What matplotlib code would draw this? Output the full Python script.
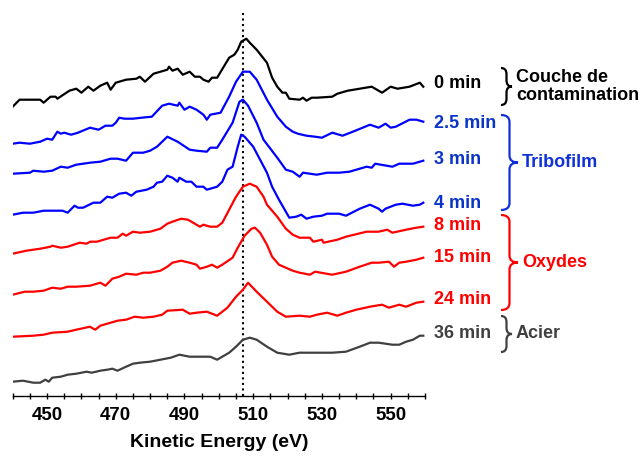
import matplotlib.pyplot as plt
from matplotlib.path import Path
from matplotlib.patches import PathPatch
from matplotlib.ticker import MultipleLocator

plt.rcParams['font.family'] = ['Liberation Sans', 'DejaVu Sans']
plt.rcParams['font.weight'] = 'bold'

# spectra (energy in eV, intensity in stacked arbitrary units)
e_0 = [440, 442, 448, 449, 451, 452.5, 453, 456.5, 458.5, 460, 462, 463.5, 465.5, 467.5, 468.5, 470, 473, 476, 477,
       478.5, 481, 485, 485.5, 486.5, 488, 489.5, 491.5, 493, 494.5, 495.5, 497, 498, 499.5, 503, 504.5, 505.5, 506.5,
       508, 509, 511, 514, 515.5, 517, 518.5, 519.5, 520.5, 523.5, 524.5, 525.5, 527, 528.5, 533, 534.5, 537.5, 544.5,
       547.5, 550, 552, 555.5, 558.5, 559.5]
i_0 = [289, 296, 296, 293, 299, 299, 297, 305, 307, 303, 309, 305, 310, 313, 306, 313, 316, 317, 319,
       314, 322, 326, 329, 325, 327, 321, 324, 319, 319, 316, 314, 318, 318, 338, 341, 346, 354,
       357, 353, 346, 333, 318, 309, 303, 303, 297, 296, 298, 295, 298, 298, 299, 302, 305, 309,
       303, 309, 307, 309, 313, 309]

e_25 = [440, 442, 445, 448, 450, 451.5, 453, 454, 455, 457, 459, 462.5, 465, 467, 469, 470, 471, 472.5, 475, 477.5,
        480.5, 483.5, 485.5, 488, 488.5, 490, 491.5, 493.5, 495.5, 496.5, 497.5, 500.5, 503, 505, 507, 509, 511, 514,
        517, 519.5, 521.5, 523, 525.5, 528, 530, 533, 536, 539, 544, 546.5, 548.5, 550, 551.5, 555.5, 557.5, 559.5]
i_25 = [252, 253, 252, 254, 257, 256, 264, 262, 263, 261, 263, 268, 266, 270, 270, 273, 278, 277, 277, 278,
        279, 290, 292, 290, 293, 286, 289, 286, 281, 276, 281, 283, 299, 314, 324, 324, 316, 296,
        279, 269, 264, 262, 260, 259, 258, 263, 260, 264, 271, 268, 272, 268, 269, 276, 276, 274]

e_3 = [440, 445, 446, 449, 451.5, 454, 456, 458.5, 462.5, 465.5, 468.5, 470.5, 473, 475, 478, 480, 482, 483.5, 485,
       488, 491.5, 493.5, 496.5, 497.5, 499.5, 501, 504, 506, 507, 508.5, 511, 513, 517, 519.5, 521.5, 523.5, 524.5,
       528.5, 531.5, 535, 538, 543, 544.5, 545.5, 550.5, 552.5, 556.5, 559.5]
i_3 = [222, 223, 225, 224, 225, 229, 228, 231, 233, 234, 237, 237, 235, 243, 243, 245, 249, 254, 259,
       254, 246, 245, 244, 248, 248, 256, 273, 294, 296, 290, 273, 256, 238, 226, 224, 219, 223,
       221, 223, 223, 224, 229, 228, 232, 229, 232, 232, 235]

e_4 = [440, 443, 446, 449, 451.5, 454.5, 456, 458, 459, 460.5, 463.5, 465.5, 467.5, 469, 471, 473, 474.5, 476, 479,
       481, 482, 483.5, 485, 486.5, 488, 488.5, 490.5, 492, 493.5, 495.5, 496.5, 499.5, 501, 502.5, 504, 505.5,
       506.5, 507.5, 510, 512, 514, 515.5, 517.5, 520.5, 522.5, 524, 525.5, 527.5, 530, 531.5, 535, 537, 541, 544,
       546.5, 547.5, 548.5, 551.5, 553.5, 556.5, 558.5, 559.5]
i_4 = [181, 183, 183, 185, 185, 185, 183, 190, 188, 188, 193, 193, 199, 198, 202, 203, 200, 204, 206,
       209, 213, 214, 220, 218, 214, 218, 214, 214, 209, 209, 206, 209, 214, 226, 229, 249,
       261, 259, 249, 236, 223, 209, 196, 178, 179, 181, 177, 179, 180, 182, 182, 180, 187, 191,
       187, 184, 187, 191, 192, 190, 191, 193]

e_8 = [440, 444, 446, 448, 451, 451.5, 454, 456, 459.5, 461.5, 462.5, 464.5, 466.5, 468.5, 470.5, 472, 473, 475, 477,
       480, 483, 485, 486.5, 489, 491, 492.5, 494.5, 495.5, 497.5, 499.5, 501, 503, 505, 507, 509, 511, 513, 514,
       517, 519.5, 521.5, 523.5, 526.5, 527.5, 530, 530.5, 534.5, 537, 543, 546.5, 549, 550.5, 554.5, 557.5, 559.5]
i_8 = [142, 145, 146, 147, 149, 150, 148, 149, 153, 152, 154, 154, 156, 158, 158, 162, 160, 164, 163,
       164, 167, 172, 174, 177, 176, 173, 169, 171, 169, 169, 173, 186, 199, 209, 212, 209, 199, 191,
       179, 167, 161, 158, 158, 154, 156, 153, 156, 159, 164, 164, 166, 163, 166, 168, 169]

e_15 = [440, 443.5, 446, 449, 451.5, 454, 456, 458.5, 462.5, 465.5, 467, 469, 471, 473, 476, 478, 480, 483, 485,
        486.5, 489, 491.5, 493.5, 494.5, 496.5, 498, 499.5, 501, 504, 505.5, 507.5, 509.5, 510.5, 512, 514, 515.5,
        517.5, 521.5, 523.5, 526.5, 528, 533, 537, 541, 544.5, 546.5, 549.5, 551, 552.5, 554.5, 557.5, 559.5]
i_15 = [101, 104, 104, 105, 108, 107, 109, 109, 110, 113, 110, 117, 119, 122, 121, 123, 123, 125, 129,
        133, 135, 133, 131, 127, 129, 131, 128, 131, 138, 148, 160, 167, 168, 163, 151, 139,
        131, 125, 123, 121, 124, 121, 124, 129, 133, 133, 134, 129, 133, 134, 136, 138]

e_24 = [440, 446, 449, 451.5, 456, 458.5, 462.5, 464, 465.5, 468.5, 470.5, 473, 475.5, 478, 481, 483.5, 485, 489.5,
        491.5, 493.5, 496.5, 499.5, 502.5, 505, 507, 508.5, 511, 514, 517, 519.5, 523.5, 526.5, 528.5, 531.5, 534.5,
        537, 540, 544, 547.5, 549.5, 552.5, 554.5, 557.5, 559.5]
i_24 = [59, 60, 61, 63, 64, 66, 69, 66, 70, 73, 75, 76, 79, 78, 79, 81, 85, 86,
        82, 83, 84, 80, 88, 99, 106, 113, 104, 94, 84, 79, 80, 79, 81, 83, 80,
        83, 86, 89, 91, 88, 91, 89, 93, 94]

e_36 = [440, 443, 446, 448, 449.5, 450.5, 451.5, 454, 456, 458.5, 461.5, 463, 465.5, 467.5, 469, 470.5, 473, 475,
        477, 480, 483, 486, 488.5, 491.5, 494.5, 497.5, 499.5, 501, 503, 505, 507, 509, 511, 514, 517, 520.5, 523.5,
        527.5, 529.5, 533, 537, 541, 544, 546.5, 550.5, 552.5, 554.5, 556.5, 558.5, 559.5]
i_36 = [14, 15, 13, 13, 16, 14, 18, 19, 21, 22, 24, 23, 25, 26, 27, 25, 29, 32,
        33, 34, 36, 38, 41, 39, 39, 39, 36, 39, 43, 49, 56, 58, 56, 49, 43, 41, 43,
        43, 43, 43, 44, 49, 53, 53, 51, 51, 54, 56, 60, 60]

times = ['0 min', '2.5 min', '3 min', '4 min', '8 min', '15 min', '24 min', '36 min']
energies = [e_0, e_25, e_3, e_4, e_8, e_15, e_24, e_36]
intensities = [i_0, i_25, i_3, i_4, i_8, i_15, i_24, i_36]
line_colors = ['black', '#0000ff', '#0000ff', '#0000ff', '#ff0000', '#ff0000', '#ff0000', '#404040']
text_colors = ['black', '#0a34c8', '#0a34c8', '#0a34c8', '#ff0000', '#ff0000', '#ff0000', '#404040']
label_y = [83, 123, 160, 203, 225, 257, 300, 334]  # pixel rows of the time labels

groups = ['Couche de\ncontamination', 'Tribofilm', 'Oxydes', 'Acier']
group_colors = ['black', '#1030d8', '#ff0000', '#404040']
group_span = [(68, 105), (115, 210), (215, 310), (316, 352)]

peak_ev = 507

fig = plt.figure(figsize=(6.43, 4.59), dpi=100)
ax = fig.add_axes([12.7 / 643, (459 - 395.7) / 459, 412.3 / 643, 385.7 / 459])

for e, i, c in zip(energies, intensities, line_colors):
    ax.plot(e, i, color=c, lw=1.6)

ax.axvline(peak_ev, color='black', ls=':', lw=1.5, zorder=0)

ax.set_xlim(440, 560)
ax.set_ylim(0, 385.7)
for s in ['left', 'right', 'top']:
    ax.spines[s].set_visible(False)
ax.spines['bottom'].set_linewidth(1.0)
ax.set_yticks([])
ax.set_xticks(range(450, 560, 20))
ax.xaxis.set_minor_locator(MultipleLocator(5))
ax.tick_params(axis='x', which='both', direction='inout', length=4, width=1, pad=6)
ax.tick_params(axis='x', labelsize=13.5)
for t in ax.get_xticklabels():
    t.set_fontweight('bold')
ax.set_xlabel('Kinetic Energy (eV)', fontsize=14, fontweight='bold', labelpad=7)

# overlay in pixel coordinates for labels and braces
ov = fig.add_axes([0, 0, 1, 1])
ov.set_xlim(0, 643)
ov.set_ylim(459, 0)
ov.axis('off')
ov.patch.set_alpha(0)

for name, y, c in zip(times, label_y, text_colors):
    ov.text(434, y, name, color=c, fontsize=13, fontweight='bold', va='center', ha='left')


def brace(x0, y0, y1, w, color):
    ym = (y0 + y1) / 2
    r = min(7, (y1 - y0) / 6)
    xm = x0 + w * 0.5
    verts = [(x0, y0), (xm, y0), (xm, y0 + r),
             (xm, ym - r),
             (xm, ym), (x0 + w, ym),
             (xm, ym), (xm, ym + r),
             (xm, y1 - r),
             (xm, y1), (x0, y1)]
    codes = [Path.MOVETO, Path.CURVE3, Path.CURVE3,
             Path.LINETO,
             Path.CURVE3, Path.CURVE3,
             Path.CURVE3, Path.CURVE3,
             Path.LINETO,
             Path.CURVE3, Path.CURVE3]
    ov.add_patch(PathPatch(Path(verts, codes), fill=False, ec=color, lw=1.6))


for g, (y0, y1), c in zip(groups, group_span, group_colors):
    w = 17 if y1 - y0 > 60 else 11
    brace(501, y0, y1, w, c)
    tx = 501 + w + 4
    ov.text(tx, (y0 + y1) / 2, g, color=c, fontsize=13, fontweight='bold', va='center', ha='left',
            linespacing=1.1)

fig.savefig('out.png', dpi=100)
